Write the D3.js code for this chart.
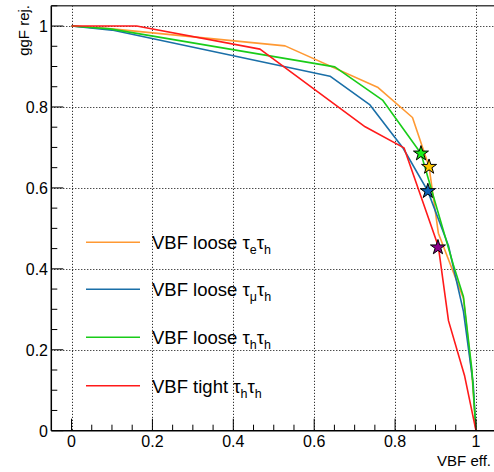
<!DOCTYPE html>
<html>
<head>
<meta charset="utf-8">
<script src="https://cdn.jsdelivr.net/npm/d3@7"></script>
<style>
  html, body { margin: 0; padding: 0; background: #fff; }
  svg { display: block; font-family: "Liberation Sans", Arial, sans-serif; }
</style>
</head>
<body>
<svg id="chart" width="494" height="472"></svg>
<script>
// ---- data ----
const seriesNames = ["VBF loose τeτh", "VBF loose τμτh", "VBF loose τhτh", "VBF tight τhτh"];
const legendMain = ["VBF loose ", "VBF loose ", "VBF loose ", "VBF tight "];
const legendSub1 = ["e", "μ", "h", "h"];
const legendSub2 = ["h", "h", "h", "h"];
const seriesColors = ["#ff9933", "#1a6fa8", "#19cc19", "#ff1a1a"];

const effETauH  = [0, 0.10, 0.528, 0.758, 0.843, 0.884, 0.907, 0.969, 0.990, 1.0];
const rejETauH  = [1, 0.993, 0.951, 0.848, 0.774, 0.652, 0.488, 0.327, 0.140, 0.0];

const effMuTauH = [0, 0.10, 0.639, 0.738, 0.820, 0.881, 0.932, 0.969, 0.993, 1.0];
const rejMuTauH = [1, 0.990, 0.876, 0.805, 0.698, 0.592, 0.457, 0.295, 0.117, 0.0];

const effHTauH  = [0, 0.095, 0.651, 0.769, 0.864, 0.944, 0.969, 0.990, 1.0];
const rejHTauH  = [1, 0.993, 0.899, 0.817, 0.685, 0.410, 0.331, 0.150, 0.0];

const effTight  = [0, 0.161, 0.466, 0.726, 0.822, 0.907, 0.932, 0.972, 1.0];
const rejTight  = [1, 1.0, 0.943, 0.751, 0.699, 0.455, 0.272, 0.135, 0.0];

// working points (stars)
const starEff    = [0.884, 0.881, 0.864, 0.906];
const starRej    = [0.652, 0.592, 0.685, 0.453];
const starColors = ["#ffc800", "#0a5fb4", "#19f019", "#8c008c"];

const xTicks = [0, 0.2, 0.4, 0.6, 0.8, 1];
const yTicks = [0, 0.2, 0.4, 0.6, 0.8, 1];
const xTickLabels = ["0", "0.2", "0.4", "0.6", "0.8", "1"];
const yTickLabels = ["0", "0.2", "0.4", "0.6", "0.8", "1"];

const allEff = [effETauH, effMuTauH, effHTauH, effTight];
const allRej = [rejETauH, rejMuTauH, rejHTauH, rejTight];

// ---- scales ----
const svg = d3.select("#chart");
const x = d3.scaleLinear().domain([-0.05, 1.05]).range([51.3, 496.2]);
const y = d3.scaleLinear().domain([0, 1.05]).range([430.7, 5.8]);

const plotL = x(-0.05), plotR = x(1.05), plotT = y(1.05), plotB = y(0);

// grid
const gridG = svg.append("g");
xTicks.forEach(t => {
  gridG.append("line")
    .attr("x1", Math.round(x(t)) + 0.5).attr("x2", Math.round(x(t)) + 0.5)
    .attr("y1", plotT).attr("y2", plotB)
    .attr("stroke", "#000").attr("stroke-width", 1).attr("stroke-dasharray", "1,2");
});
yTicks.filter(t => t > 0).forEach(t => {
  gridG.append("line")
    .attr("y1", Math.round(y(t)) + 0.5).attr("y2", Math.round(y(t)) + 0.5)
    .attr("x1", plotL).attr("x2", plotR)
    .attr("stroke", "#000").attr("stroke-width", 1).attr("stroke-dasharray", "1,2");
});

// curves
const line = d3.line().x(d => x(d[0])).y(d => y(d[1]));
allEff.forEach((effs, i) => {
  const pts = effs.map((e, j) => [e, allRej[i][j]]);
  svg.append("path").datum(pts)
    .attr("d", line)
    .attr("fill", "none")
    .attr("stroke", seriesColors[i])
    .attr("stroke-width", 1.6)
    .attr("stroke-linejoin", "round");
});

// stars
const star = d3.symbol().type(d3.symbolStar).size(70);
starEff.forEach((e, i) => {
  svg.append("path")
    .attr("d", star())
    .attr("transform", `translate(${x(e)},${y(starRej[i])})`)
    .attr("fill", starColors[i])
    .attr("stroke", "#000")
    .attr("stroke-width", 1);
});

// axes frame
const frame = svg.append("g");
frame.append("line").attr("x1", plotL).attr("x2", plotR).attr("y1", plotB).attr("y2", plotB)
  .attr("stroke", "#000").attr("stroke-width", 1.5);
frame.append("line").attr("x1", plotL).attr("x2", plotL).attr("y1", plotT).attr("y2", plotB)
  .attr("stroke", "#000").attr("stroke-width", 1.5);
frame.append("line").attr("x1", plotL).attr("x2", plotR).attr("y1", plotT).attr("y2", plotT)
  .attr("stroke", "#444").attr("stroke-width", 1.5);

// ticks (inward)
const xMinor = d3.range(0, 21).map(k => k * 0.05).filter(v => v <= 1.05);
xMinor.forEach(v => {
  const major = Math.abs(v * 5 - Math.round(v * 5)) < 1e-6;
  frame.append("line")
    .attr("x1", x(v)).attr("x2", x(v))
    .attr("y1", plotB).attr("y2", plotB - (major ? 12 : 6))
    .attr("stroke", "#000").attr("stroke-width", 1);
});
const yMinor = d3.range(0, 22).map(k => k * 0.05).filter(v => v <= 1.05);
yMinor.forEach(v => {
  const major = Math.abs(v * 5 - Math.round(v * 5)) < 1e-6;
  frame.append("line")
    .attr("y1", y(v)).attr("y2", y(v))
    .attr("x1", plotL).attr("x2", plotL + (major ? 12 : 6))
    .attr("stroke", "#000").attr("stroke-width", 1);
});

// tick labels
xTicks.forEach((t, i) => {
  svg.append("text").attr("x", x(t)).attr("y", 447)
    .attr("text-anchor", "middle").attr("font-size", 16).attr("fill", "#000")
    .text(xTickLabels[i]);
});
yTicks.forEach((t, i) => {
  svg.append("text").attr("x", 48).attr("y", y(t) + 6)
    .attr("text-anchor", "end").attr("font-size", 16).attr("fill", "#000")
    .text(yTickLabels[i]);
});

// axis titles
svg.append("text").attr("x", 491).attr("y", 466)
  .attr("text-anchor", "end").attr("font-size", 15).attr("fill", "#000")
  .text("VBF eff.");
svg.append("text")
  .attr("transform", "translate(29,5) rotate(-90)")
  .attr("text-anchor", "end").attr("font-size", 15).attr("fill", "#000")
  .text("ggF rej.");

// legend
const legY = [242.3, 289.3, 337.3, 385.7];
seriesNames.forEach((name, i) => {
  svg.append("line")
    .attr("x1", 86).attr("x2", 140).attr("y1", legY[i]).attr("y2", legY[i])
    .attr("stroke", seriesColors[i]).attr("stroke-width", 1.6);
  const t = svg.append("text").attr("x", 152).attr("y", legY[i] + 7)
    .attr("font-size", 18.5).attr("fill", "#000");
  t.append("tspan").text(legendMain[i]);
  t.append("tspan").text("τ");
  t.append("tspan").attr("font-size", 12.5).attr("dy", 5).text(legendSub1[i]);
  t.append("tspan").attr("dy", -5).text("τ");
  t.append("tspan").attr("font-size", 12.5).attr("dy", 5).text(legendSub2[i]);
});
</script>
</body>
</html>
